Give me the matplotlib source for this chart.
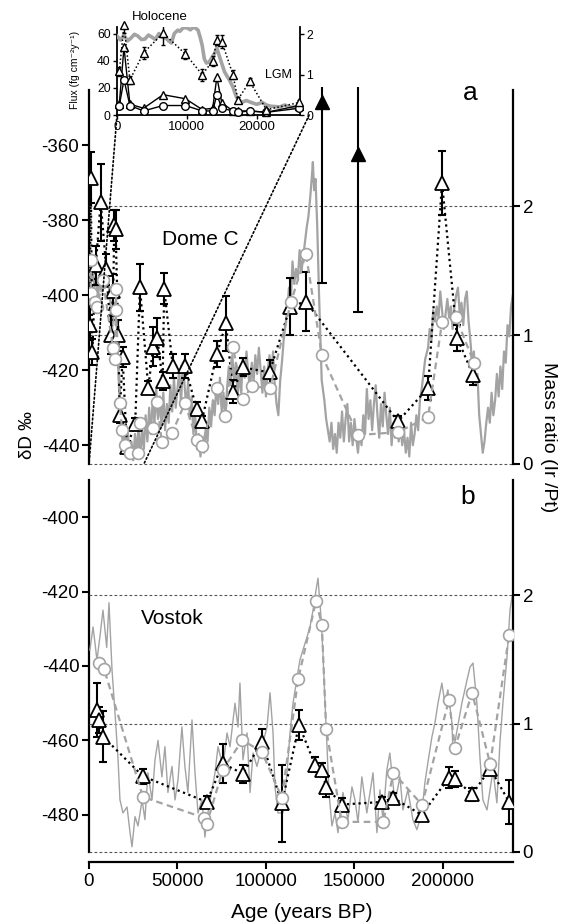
import numpy as np
import matplotlib
matplotlib.use("Agg")
import matplotlib.pyplot as plt
from matplotlib.patches import ConnectionPatch

plt.rcParams['font.family'] = ['Liberation Sans', 'DejaVu Sans']

GRAY = "#a3a3a3"

# ---------------- Dome C (panel a) ----------------
dc_age = [0, 1000, 2000, 3000, 4000, 5000, 6000, 7000, 8000, 9000, 10000, 11000, 12000,
          12800, 13500, 14300, 15000, 15800, 16500,
          17000, 18000, 19000, 20000, 21000, 22000, 23000, 24000, 25000, 26000, 27000,
          28000, 29000, 30000, 31000, 32000, 33000, 34000, 35000, 36000, 37000, 38000,
          39000, 40000, 41000, 42000, 43000, 44000, 45000, 46000, 47000, 48000, 49000,
          50000, 51000, 52000, 53000, 54000, 55000, 56000, 57000, 58000, 59000, 60000,
          61000, 62000, 63000, 64000, 65000, 66000, 67000, 68000, 69000, 70000, 71000,
          72000, 73000, 74000, 75000, 76000, 77000, 78000, 79000, 80000, 81000, 82000,
          83000, 84000, 85000, 86000, 87000, 88000, 89000, 90000, 91000, 92000, 93000,
          94000, 95000, 96000, 97000, 98000, 99000, 100000, 101000, 102000, 103000,
          104000, 105000, 106000, 107000, 108000, 109000, 110000, 111000, 112000, 113000,
          114000, 115000, 116000, 117000, 118000, 119000, 120000, 121000, 122000, 123000,
          124000, 125000, 126000, 126500, 127200, 128000, 129000, 130000, 131000, 131500,
          133000, 134000, 135000, 136000, 137000, 138000, 139000, 140000, 141000, 142000,
          143000, 144000, 145000, 146000, 147000, 148000, 149000, 150000, 151000, 152000,
          153000, 154000, 155000, 156000, 157000, 158000, 159000, 160000, 161000, 162000,
          163000, 164000, 165000, 166000, 167000, 168000, 169000, 170000, 171000, 172000,
          173000, 174000, 175000, 176000, 177000, 178000, 179000, 180000, 181000, 182000,
          183000, 184000, 185000, 186000, 187000, 188000, 189000, 190000, 191600, 192500,
          193500, 194500, 195500, 196500, 197500, 198500, 199500, 200500, 201500, 202500,
          203500, 204500, 205500, 206500, 207500, 208500, 209500, 210500, 211500, 212500,
          213500, 214500, 215500, 216500, 217500, 218500, 219500, 220500, 221500, 222500,
          223500, 224500, 225500, 226500, 227500, 228500, 229500, 230500, 231500, 232500,
          233500, 234500, 235500, 236500, 237500, 238500, 239500]
dc_dD = [-393, -397, -392, -398, -395, -401, -396, -399, -394, -398, -395, -397, -401,
         -410, -407, -402, -405, -409, -418,
         -425, -434, -439, -436, -441, -437, -443, -439, -444, -437, -442,
         -435, -443, -436, -441, -432, -439, -430, -437, -428, -434, -425,
         -433, -427, -435, -426, -436, -429, -434, -424, -431, -422, -430,
         -425, -420, -429, -418, -424, -430, -423, -433, -427, -437, -432,
         -441, -437, -443, -438, -442, -435, -439, -430, -435, -428, -432,
         -424, -429, -422, -431, -426, -433, -425, -419, -424, -416, -423,
         -418, -427, -420, -426, -417, -422, -415, -421, -425, -418, -423,
         -416, -421, -414, -420, -426, -419, -427, -420, -416, -422,
         -415, -424, -429, -432, -423, -418, -412, -408, -404, -398,
         -402, -391, -397, -393, -396, -388, -394, -390, -386, -382,
         -379, -374, -368, -364.5, -372, -369, -382, -400, -415, -422.7,
         -428, -433, -436, -439, -434, -441, -437, -442, -434, -438,
         -431, -439, -433, -429, -439, -434, -440, -433, -438, -442,
         -436, -440, -432, -437, -425, -433, -428, -436, -429, -424,
         -432, -438, -429, -435, -426, -432, -437, -430, -440, -434,
         -438, -433, -439, -435, -440, -436, -442, -438, -443, -434,
         -440, -437, -432, -436, -428, -425, -421, -417, -414, -409,
         -412, -404, -407, -403, -406, -399, -404, -409, -405, -401,
         -406, -403, -409, -403, -400, -398, -405, -402, -408, -401,
         -399, -407, -412, -418, -415, -424, -421, -432, -437, -442,
         -439, -434, -430, -434, -426, -432, -428, -421, -427, -419,
         -425, -415, -418, -408, -411, -403, -400]

dc_circ_age = [1000, 1000, 3400, 4500, 7900, 13600, 14700, 15300, 15300, 17500, 18600,
               20300, 23200, 27700, 28800, 36200, 38400, 41200, 46900, 54200, 61000,
               63800, 72300, 76800, 81400, 87000, 92100, 102300, 114100, 122600, 131600,
               152000, 174600, 191600, 199500, 207400, 217500]
dc_circ_dD = [-390.7, -399.5, -401.9, -403.2, -396, -414.1, -417, -398.4, -404, -428.8, -436,
              -440, -442, -442, -434, -435.5, -428.5, -439.2, -436.8, -428.8, -438.7,
              -440.3, -424.8, -432.3, -413.9, -427.7, -424.3, -424.8, -401.9, -389, -416,
              -437.3, -436.5, -432.5, -407.2, -405.9, -418]

dc_tri_age = [330, 1000, 1850, 3800, 6600, 9800, 12200, 13700, 14300, 15000, 16600, 17300,
              19000, 21400, 26100, 28800, 33500, 36300, 38600, 41600, 42500, 47300, 54200,
              60800, 63700, 72200, 77400, 81400, 86800, 102000, 113700, 122500, 174600,
              191600, 199500, 208000, 217000]
dc_ratio = [1.08, 2.22, 0.87, 1.54, 2.03, 1.51, 1.00, 1.34, 1.85, 1.82, 1.00, 0.38,
            0.83, 0.13, 0.31, 1.37, 0.59, 0.91, 0.98, 0.64, 1.36, 0.76, 0.76,
            0.43, 0.33, 0.85, 1.09, 0.56, 0.75, 0.71, 1.22, 1.26, 0.33,
            0.59, 2.18, 0.98, 0.69]
dc_ratio_err = [0.12, 0.2, 0.1, 0.15, 0.3, 0.12, 0.15, 0.13, 0.12, 0.15, 0.12, 0.06,
                0.08, 0.05, 0.05, 0.18, 0.05, 0.15, 0.15, 0.07, 0.12, 0.09, 0.09,
                0.05, 0.04, 0.1, 0.21, 0.09, 0.07, 0.1, 0.22, 0.23, 0.04,
                0.09, 0.25, 0.1, 0.08]

ref_age = [131600, 152000]
ref_ratio = [2.81, 2.40]
ref_low = [1.40, 1.18]
ref_high = [2.92, 2.92]

# ---------------- Vostok (panel b) ----------------
vk_age = [500, 2300, 4500, 6200, 7900, 10000, 11300, 13000, 14700, 16400, 17500, 19200,
          21500, 23200, 24300, 26000, 27700, 30000, 31600, 33300, 35600, 37300, 39000,
          41200, 42900, 44600, 46900, 48600, 50300, 52500, 54200, 55900, 58200, 59900,
          61600, 63800, 65500, 67200, 69500, 71200, 72900, 75700, 78000, 79700, 82500,
          84200, 85300, 87000, 89300, 91000, 92700, 94900, 97700, 100600, 102300, 104000,
          105100, 106800, 109600, 111900, 113600, 115300, 117600, 119200, 120900, 123200,
          124900, 126600, 128300, 129400, 131100, 132200, 133300, 134500, 135600, 137300,
          139000, 140700, 143500, 146300, 148600, 150300, 152000, 154200, 157000, 158800,
          160500, 162700, 164400, 166100, 168300, 170000, 172900, 175700, 177400, 180200,
          183000, 185300, 188100, 189800, 191500, 193800, 195500, 197200, 199400, 201100,
          202800, 205100, 205700, 208000, 210700, 213600, 215300, 217000, 219200, 220900,
          222600, 224900, 226600, 228300, 230500, 232200, 233900, 236200, 237900, 239000]
vk_dD = [-435.7, -429.5, -438.4, -432, -425, -435, -423, -441, -452.6, -465, -476, -479.5,
         -477.9, -484.8, -488.6, -480.5, -483, -476, -481.3, -468.7, -476, -465.2, -460,
         -469.8, -461.7, -474, -467, -476, -470.6, -456.4, -467, -474, -454.5, -468.7,
         -479.5, -476, -486, -479.5, -473.3, -468.7, -461.7, -467, -458, -461.7, -450,
         -456.4, -444.6, -465.2, -458, -474, -463.4, -467, -461.7, -456.4, -447.2, -458,
         -472.5, -479.5, -479.5, -468.7, -458, -450, -443, -438.4, -435.7, -432.2,
         -429.5, -425, -419.6, -416.4, -426.8, -436.5, -449, -461.7, -474, -483,
         -479.5, -484.8, -474, -481.3, -472.5, -476, -482, -469.8, -479.5, -474,
         -468.7, -484.8, -473.3, -481.3, -468, -463.4, -476.8, -469.8, -478.7, -473.3,
         -481.3, -484, -479.5, -471.4, -466, -459, -455.3, -450, -444.6, -450,
         -446.4, -455.3, -463.4, -457.2, -450, -443.8, -440.3, -439.2, -450, -464.4,
         -476, -478.7, -473.3, -468, -476.8, -460.7, -450, -437.6, -425, -421.5]

vk_circ_age = [5700, 8500, 30500, 65000, 66600, 75600, 86700, 97700, 109000, 118200, 128300,
               131600, 134000, 142800, 166300, 172000, 188200, 203400, 206800, 216500,
               226700, 237400]
vk_circ_dD = [-439.2, -440.8, -475.2, -480.8, -482.4, -467.9, -459.9, -463.1, -475.4, -443.5,
              -422.5, -429.0, -456.9, -481.9, -481.9, -468.7, -477.3, -449.1, -462, -447.2,
              -466.3, -431.7]

vk_tri_age = [4500, 5600, 7900, 30500, 66600, 75600, 87000, 97700, 109000, 118700, 127700,
              131600, 133900, 142900, 165500, 172000, 188000, 203500, 206800, 216500,
              226700, 237400]
vk_ratio = [1.11, 1.03, 0.90, 0.59, 0.39, 0.69, 0.61, 0.86, 0.38, 0.99, 0.68,
            0.64, 0.51, 0.37, 0.39, 0.42, 0.29, 0.58, 0.57, 0.45, 0.65, 0.39]
vk_ratio_err = [0.21, 0.1, 0.2, 0.06, 0.05, 0.15, 0.07, 0.1, 0.3, 0.12, 0.06,
                0.05, 0.08, 0.05, 0.04, 0.04, 0.04, 0.08, 0.06, 0.05, 0.04, 0.17]

# ---------------- inset (last 26 kyr, Dome C) ----------------
ins_age = [0, 500, 1000, 1500, 2000, 2500, 3000, 3500, 4000, 4500, 5000, 5500, 6000, 6400,
           7000, 7400, 7800, 8200, 8700, 9000, 9500, 10100, 10500, 11000, 11600, 11900,
           12200, 12500, 12800, 13200, 13600, 14000, 14300, 14700, 15400, 16100, 16600,
           17100, 17500, 18000, 18500, 19400, 20000, 20800, 21400, 22000, 23300, 24000,
           25000, 25700, 26100]
ins_dD = [-393.7, -396.4, -393, -397, -395, -392.5, -393.7, -396, -395.7, -393, -394.4, -396,
          -392, -394.4, -395, -397, -398.4, -392, -389.7, -390.5, -388, -388.3, -389.5,
          -387.5, -389.7, -394.4, -400, -409, -411.8, -411.1, -408, -405.1, -401.7, -407.8,
          -417.8, -423.2, -428, -434.6, -437, -438, -437, -438.6, -439.5, -438.3, -440,
          -440.8, -441.3, -440, -441.5, -441.3, -441.3]

flux_age = [330, 1000, 1850, 3800, 6600, 9800, 12200, 13700, 14300, 15000, 16600, 17300,
            19000, 21400, 26100]
flux_ir = [8, 50, 8, 5, 15, 12, 4, 5, 28, 9, 3, 3, 3, 2, 7]
flux_pt = [7, 26, 7, 3, 7, 7, 3, 3, 15, 5, 3, 2, 3, 2, 5]

ZOOM_END = 31000   # where the right zoom line meets panel a

W, H = 575, 924
fig = plt.figure(figsize=(W / 100, H / 100), dpi=100)


def px_rect(l, t, r, b):
    return [l / W, 1 - b / H, (r - l) / W, (b - t) / H]


def panel(ax, c_age, c_dD, lw_curve, p_age, p_dD, t_age, t_ratio, t_err, dlim, dticks):
    ax2 = ax.twinx()
    ax.set_xlim(0, 239600)
    ax.set_ylim(*dlim)
    ax2.set_ylim(0, 2.9)

    ax2.plot(c_age, c_dD, color=GRAY, lw=lw_curve, transform=ax.transData, zorder=1)
    for r in (0, 1, 2):
        ax2.axhline(r, color="#555555", lw=0.8, ls=(0, (2.5, 2)), zorder=0.5, clip_on=False)

    ax2.plot(t_age, t_ratio, color="black", ls=(0, (1, 1.6)), lw=1.6, zorder=3)
    ax2.errorbar(t_age, t_ratio, yerr=t_err, fmt="none", ecolor="black", elinewidth=1.5,
                 capsize=3, capthick=1.5, zorder=3.2)
    ax2.plot(t_age, t_ratio, ls="none", marker="^", ms=9.5, mfc="white", mec="black",
             mew=1.3, zorder=3.5)

    ax2.plot(p_age, p_dD, color=GRAY, ls=(0, (3, 2)), lw=1.6, transform=ax.transData, zorder=4)
    ax2.plot(p_age, p_dD, ls="none", marker="o", ms=8.5, mfc="white", mec=GRAY, mew=1.2,
             transform=ax.transData, zorder=4.5)

    for s in ("top", "right", "bottom"):
        ax.spines[s].set_visible(False)
    for s in ("top", "left", "bottom"):
        ax2.spines[s].set_visible(False)
    ax.spines["left"].set_linewidth(1.6)
    ax2.spines["right"].set_linewidth(1.6)
    ax.set_yticks(dticks)
    ax.set_yticklabels([str(v) for v in dticks])
    ax2.set_yticks([0, 1, 2])
    ax.tick_params(axis="y", direction="out", length=5, width=1.5, labelsize=13.5, pad=2)
    ax2.tick_params(axis="y", direction="out", length=5, width=1.5, labelsize=13.5, pad=2)
    return ax2


ax_a = fig.add_axes(px_rect(89, 90, 513, 464))
ax_b = fig.add_axes(px_rect(89, 480, 513, 852))

ax_a2 = panel(ax_a, dc_age, dc_dD, 1.6, dc_circ_age, dc_circ_dD, dc_tri_age, dc_ratio,
              dc_ratio_err, (-445, -345.3), [-360, -380, -400, -420, -440])
ax_b2 = panel(ax_b, vk_age, vk_dD, 1.0, vk_circ_age, vk_circ_dD, vk_tri_age, vk_ratio,
              vk_ratio_err, (-490, -390), [-400, -420, -440, -460, -480])

# filled triangles with long bars (panel a)
ax_a2.vlines(ref_age, ref_low, ref_high, color="black", lw=1.5, clip_on=False, zorder=3)
ax_a2.plot(ref_age, ref_low, ls="none", marker="_", ms=7, mew=1.5, color="black", zorder=3)
ax_a2.plot(ref_age, ref_ratio, ls="none", marker="^", ms=9.5, color="black", zorder=3.5,
           clip_on=False)

ax_a.tick_params(axis="x", bottom=False, labelbottom=False)
ax_b.spines["bottom"].set_visible(True)
ax_b.spines["bottom"].set_position(("outward", 7))
ax_b.spines["bottom"].set_linewidth(1.6)
ax_b.set_xticks([0, 50000, 100000, 150000, 200000])
ax_b.set_xticklabels(["0", "50000", "100000", "150000", "200000"])
ax_b.tick_params(axis="x", direction="out", length=5, width=1.5, labelsize=13.5, pad=3)

ax_a2.text(0.898, 0.992, "a", transform=ax_a2.transAxes, ha="center", va="center", fontsize=19)
ax_b2.text(0.894, 0.954, "b", transform=ax_b2.transAxes, ha="center", va="center", fontsize=19)
ax_a2.text(0.262, 0.599, "Dome C", transform=ax_a2.transAxes, ha="center", va="center", fontsize=15)
ax_b2.text(0.196, 0.629, "Vostok", transform=ax_b2.transAxes, ha="center", va="center", fontsize=15)

fig.text(302 / W, 1 - 912 / H, "Age (years BP)", ha="center", va="center", fontsize=15)
fig.text(28 / W, 1 - 435 / H, "δD ‰", ha="center", va="center", rotation=90, fontsize=13.5)
fig.text(548 / W, 1 - 437 / H, "Mass ratio (Ir /Pt)", ha="center", va="center",
         rotation=270, fontsize=14)

# ---------------- inset ----------------
inset_rect = px_rect(117, 27, 300, 115)
ax_id = fig.add_axes(inset_rect)
ax_id.set_axis_off()
ax_i = fig.add_axes(inset_rect)
ax_i.patch.set_visible(False)
ax_ir = ax_i.twinx()
for a in (ax_i, ax_id):
    a.set_xlim(0, 26200)
ax_i.set_ylim(0, 65)
ax_ir.set_ylim(0, 2.18)
ax_id.set_ylim(-446.7, -387.6)

ax_ir.plot(ins_age, ins_dD, color=GRAY, lw=2.6, transform=ax_id.transData, zorder=1)
ax_ir.plot(flux_age, flux_ir, color="black", lw=1.0, marker="^", ms=5.5, mfc="white",
           mec="black", mew=1.0, transform=ax_i.transData, zorder=3, clip_on=False)
ax_ir.plot(flux_age, flux_pt, color="black", lw=1.0, marker="o", ms=5.5, mfc="white",
           mec="black", mew=1.0, transform=ax_i.transData, zorder=3.2, clip_on=False)

ins_mask = np.array(dc_tri_age) <= 26200
ins_t_age = np.array(dc_tri_age)[ins_mask]
ins_t_ratio = np.array(dc_ratio)[ins_mask]
ins_t_err = np.array(dc_ratio_err)[ins_mask]
ax_ir.plot(ins_t_age, ins_t_ratio, color="black", ls=(0, (1, 1.5)), lw=1.1, zorder=3.4)
ax_ir.errorbar(ins_t_age, ins_t_ratio, yerr=ins_t_err, fmt="none", ecolor="black",
               elinewidth=1.0, capsize=1.5, capthick=1.0, zorder=3.5)
ax_ir.plot(ins_t_age, ins_t_ratio, ls="none", marker="^", ms=5.5, mfc="white", mec="black",
           mew=1.0, zorder=3.6, clip_on=False)

ax_i.spines["top"].set_visible(False)
ax_i.spines["right"].set_visible(False)
for s in ("top", "left", "bottom"):
    ax_ir.spines[s].set_visible(False)
for s in ("left", "bottom"):
    ax_i.spines[s].set_linewidth(1.3)
ax_ir.spines["right"].set_linewidth(1.3)
ax_i.set_xticks([0, 10000, 20000])
ax_i.set_yticks([0, 20, 40, 60])
ax_ir.set_yticks([0, 1, 2])
ax_i.tick_params(axis="x", length=3, width=1, labelsize=9.5, pad=1.5)
ax_i.tick_params(axis="y", length=3, width=1, labelsize=8.8, pad=1.5)
ax_ir.tick_params(axis="y", length=3, width=1, labelsize=8.8, pad=1.5)

fig.text(160 / W, 1 - 17 / H, "Holocene", ha="center", va="center", fontsize=9.5)
fig.text(278 / W, 1 - 75 / H, "LGM", ha="center", va="center", fontsize=9)
fig.text(75 / W, 1 - 70 / H, "Flux (fg cm⁻²y⁻¹)", ha="center", va="center", rotation=90,
         fontsize=7.5)

# zoom lines from inset to panel a
for xyA, coordsA, xB in (((0, 0), ax_i.transData, 0), ((1.05, 0), ax_i.transAxes, ZOOM_END)):
    con = ConnectionPatch(xyA=xyA, coordsA=coordsA, xyB=(xB, -445), coordsB=ax_a.transData,
                          color="black", lw=1.2, ls=(0, (1, 1.5)))
    fig.add_artist(con)

fig.savefig("out.png", dpi=100)
